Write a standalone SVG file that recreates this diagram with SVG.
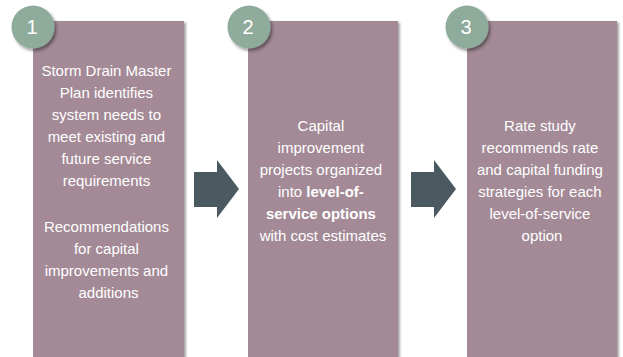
<svg xmlns="http://www.w3.org/2000/svg" width="623" height="357" viewBox="0 0 623 357">
  <defs>
    <filter id="shadow" x="-10%" y="-10%" width="130%" height="130%">
      <feDropShadow dx="2" dy="1.5" stdDeviation="1.2" flood-color="#000" flood-opacity="0.35"/>
    </filter>
    <filter id="badgeShadow" x="-30%" y="-30%" width="170%" height="170%">
      <feDropShadow dx="2" dy="2.5" stdDeviation="1.8" flood-color="#000" flood-opacity="0.4"/>
    </filter>
  </defs>
  <style>
    .box { fill: #a38a96; filter: url(#shadow); }
    .badge { fill: #8fab9b; filter: url(#badgeShadow); }
    .num { font-family: "Liberation Sans", Arial, sans-serif; font-size: 20px; fill: #fff; text-anchor: middle; }
    .txt { font-family: "Liberation Sans", Arial, sans-serif; font-size: 15px; fill: #fff; text-anchor: middle; }
    .b { font-weight: bold; }
    .arrow { fill: #4b5a61; }
  </style>
  <rect width="623" height="357" fill="#fff"/>

  <g id="connectors">
    <polygon class="arrow" points="194,172 217,172 217,160 239,189 217,218 217,207 194,207"/>
    <polygon class="arrow" points="411,172 434,172 434,160 456,189 434,218 434,207 411,207"/>
  </g>

  <g id="step1">
    <rect class="box" x="33" y="21" width="151" height="345"/>
    <circle class="badge" cx="33" cy="27" r="21.5"/>
    <text class="num" x="32" y="34">1</text>
    <text class="txt">
      <tspan x="108.5" y="76">Storm Drain Master</tspan>
      <tspan x="108.5" y="98">Plan identifies</tspan>
      <tspan x="108.5" y="120">system needs to</tspan>
      <tspan x="108.5" y="142">meet existing and</tspan>
      <tspan x="108.5" y="164">future service</tspan>
      <tspan x="108.5" y="186">requirements</tspan>
      <tspan x="108.5" y="232">Recommendations</tspan>
      <tspan x="108.5" y="254">for capital</tspan>
      <tspan x="108.5" y="276">improvements and</tspan>
      <tspan x="108.5" y="298">additions</tspan>
    </text>
  </g>

  <g id="step2">
    <rect class="box" x="248" y="21" width="150" height="345"/>
    <circle class="badge" cx="249" cy="27" r="21.5"/>
    <text class="num" x="248" y="34">2</text>
    <text class="txt">
      <tspan x="323" y="131">Capital</tspan>
      <tspan x="323" y="153">improvement</tspan>
      <tspan x="323" y="175">projects organized</tspan>
      <tspan x="323" y="197">into <tspan class="b">level-of-</tspan></tspan>
      <tspan x="323" y="219" class="b">service options</tspan>
      <tspan x="323" y="241">with cost estimates</tspan>
    </text>
  </g>

  <g id="step3">
    <rect class="box" x="467" y="21" width="150" height="345"/>
    <circle class="badge" cx="467" cy="27" r="21.5"/>
    <text class="num" x="466" y="34">3</text>
    <text class="txt">
      <tspan x="542" y="131">Rate study</tspan>
      <tspan x="542" y="153">recommends rate</tspan>
      <tspan x="542" y="175">and capital funding</tspan>
      <tspan x="542" y="197">strategies for each</tspan>
      <tspan x="542" y="219">level-of-service</tspan>
      <tspan x="542" y="241">option</tspan>
    </text>
  </g>
</svg>
